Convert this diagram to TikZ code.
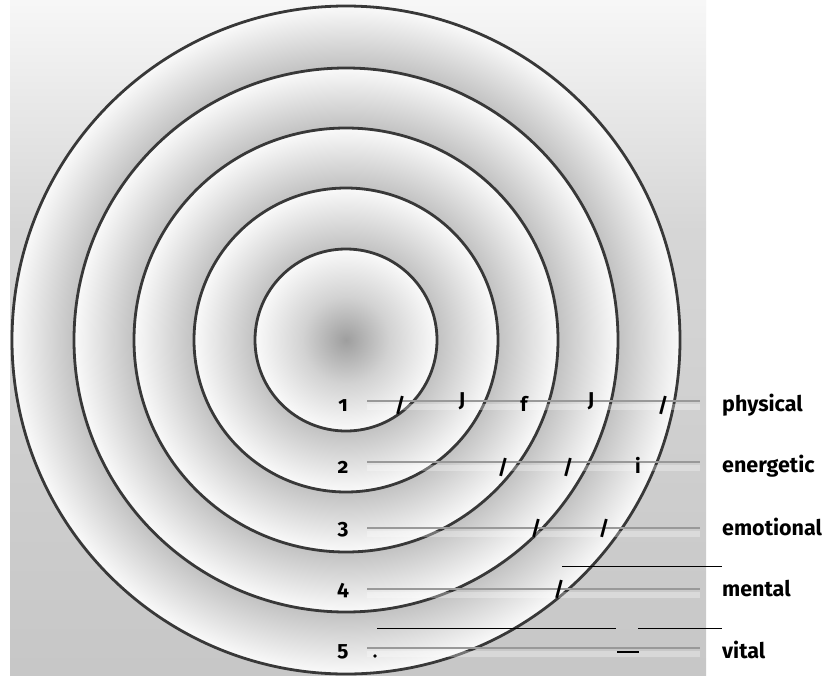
\documentclass[tikz,border=0pt]{standalone}
\usepackage{fontspec}
\setmainfont{Fira Sans}[Numbers=OldStyle]
\definecolor{bgtop}{gray}{0.97}
\definecolor{bgmid}{gray}{0.84}
\definecolor{bgbot}{gray}{0.78}
\definecolor{diskin}{gray}{0.62}
\definecolor{bandin}{gray}{0.76}
\definecolor{bandout}{gray}{0.98}
\definecolor{ringline}{gray}{0.22}
\definecolor{rowgray}{gray}{0.6}
\pgfdeclareverticalshading{bgshade}{100bp}{color(0bp)=(bgbot); color(25bp)=(bgbot); color(58bp)=(bgmid); color(75bp)=(bgtop); color(100bp)=(bgtop)}
\pgfdeclareradialshading{bandA}{\pgfpoint{0bp}{0bp}}{color(0bp)=(diskin); color(12bp)=(gray!35!white); color(25bp)=(bandout); color(50bp)=(bandout)}
\pgfdeclareradialshading{bandB}{\pgfpoint{0bp}{0bp}}{color(0bp)=(bandin); color(14.97bp)=(bandin); color(25bp)=(bandout); color(50bp)=(bandout)}
\pgfdeclareradialshading{bandC}{\pgfpoint{0bp}{0bp}}{color(0bp)=(bandin); color(17.92bp)=(bandin); color(25bp)=(bandout); color(50bp)=(bandout)}
\pgfdeclareradialshading{bandD}{\pgfpoint{0bp}{0bp}}{color(0bp)=(bandin); color(19.49bp)=(bandin); color(25bp)=(bandout); color(50bp)=(bandout)}
\pgfdeclareradialshading{bandE}{\pgfpoint{0bp}{0bp}}{color(0bp)=(bandin); color(20.36bp)=(bandin); color(25bp)=(bandout); color(50bp)=(bandout)}
\tikzset{
  ring/.style={draw=ringline, line width=2.8pt},
  rowline/.style={draw=rowgray, line width=2.2pt},
  strip/.style={draw=white, opacity=0.3, line width=6pt},
  thinline/.style={draw=black, line width=1pt},
  numlabel/.style={font=\fontsize{21}{24}\selectfont\bfseries, inner sep=0pt, anchor=center},
  wordlabel/.style={font=\fontsize{21.5}{24}\selectfont\bfseries, inner sep=0pt, anchor=west},
  art/.style={font=\fontsize{20}{22}\selectfont\bfseries, inner sep=0pt, anchor=center, text=black}
}
\begin{document}
\begin{tikzpicture}[x=1pt, y=-1pt]
\useasboundingbox (0,0) rectangle (835,675);
\fill[white] (0,0) rectangle (835,675);
\shade[shading=bgshade] (10,0) rectangle (706,675);
\coordinate (c) at (346,340);
\shade[shading=bandE] (c) circle (334);
\shade[shading=bandD] (c) circle (272);
\shade[shading=bandC] (c) circle (212);
\shade[shading=bandB] (c) circle (152);
\shade[shading=bandA] (c) circle (91);
\foreach \r in {334,272,212,152,91} \draw[ring] (c) circle (\r);
% numbers and labels
\node[numlabel] (n1) at (343,406) {1};
\node[numlabel] (n2) at (343,467) {2};
\node[numlabel] (n3) at (343,530) {3};
\node[numlabel] (n4) at (343,591) {4};
\node[numlabel] (n5) at (343,652) {5};
\node[wordlabel] (l1) at (722,405) {physical};
\node[wordlabel] (l2) at (722,466) {energetic};
\node[wordlabel] (l3) at (722,527) {emotional};
\node[wordlabel] (l4) at (722,589) {mental};
\node[wordlabel] (l5) at (722,650) {vital};
% row lines
\coordinate (s1) at (367,401); \coordinate (e1) at (700,401);
\coordinate (s2) at (367,462); \coordinate (e2) at (700,462);
\coordinate (s3) at (367,528); \coordinate (e3) at (700,528);
\coordinate (s4) at (367,589); \coordinate (e4) at (700,589);
\coordinate (s5) at (367,648); \coordinate (e5) at (700,648);
\foreach \k in {1,...,5} {
  \draw[strip] ([yshift=-6]s\k) -- ([yshift=-6]e\k);
  \draw[rowline] (s\k) -- (e\k);
}
% thin black lines
\coordinate (t1) at (562,566); \coordinate (t2) at (722,566);
\coordinate (t3) at (377,628); \coordinate (t4) at (616,628);
\coordinate (t5) at (638,628); \coordinate (t6) at (722,628);
\draw[thinline] (t1) -- (t2);
\draw[thinline] (t3) -- (t4);
\draw[thinline] (t5) -- (t6);
% stray marks
\node[art] (a1) at (400,405) {/};
\node[art] (a2) at (462,401) {J};
\node[art] (a3) at (524,404) {f};
\node[art] (a4) at (591,401) {J};
\node[art] (a5) at (663,405) {/};
\node[art] (a6) at (503,467) {/};
\node[art] (a7) at (568,467) {/};
\node[art] (a8) at (638,465) {i};
\node[art] (a9) at (536,528) {/};
\node[art] (a10) at (604,528) {/};
\node[art] (a11) at (559,589) {/};
\fill (375,656) circle (1.8);
\coordinate (d1) at (617,652); \coordinate (d2) at (639,652);
\draw[line width=2.2pt] (d1) -- (d2);
\end{tikzpicture}
\end{document}
